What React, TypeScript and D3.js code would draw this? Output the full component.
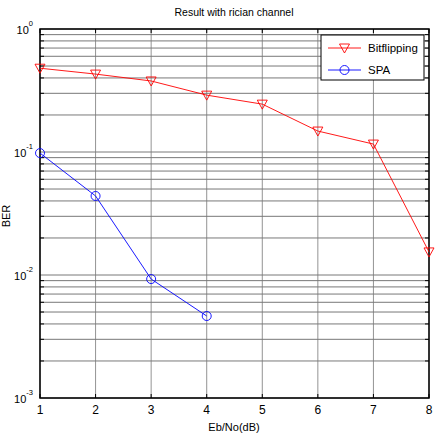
import * as d3 from "d3";

const ebno = [1, 2, 3, 4, 5, 6, 7, 8];
const bitflipping = [0.48, 0.43, 0.378, 0.29, 0.245, 0.148, 0.116, 0.0154];
const spaX = [1, 2, 3, 4];
const spa = [0.098, 0.0439, 0.00927, 0.00464];
const decades = [0, -1, -2, -3];
const xTicks = [1, 2, 3, 4, 5, 6, 7, 8];

const margin = { top: 29, right: 6, bottom: 36, left: 40 };
const width = 435;
const height = 434;
const font = "'Liberation Sans', Arial, sans-serif";

export default function App() {
  const iw = width - margin.left - margin.right;
  const ih = height - margin.top - margin.bottom;

  const x = d3.scaleLinear().domain([1, 8]).range([0, iw]);
  const y = d3.scaleLog().domain([1e-3, 1]).range([ih, 0]);

  // minor grid values 2..9 in each decade
  const minor: number[] = [];
  for (let e = -3; e < 0; e++) {
    for (let k = 2; k <= 9; k++) minor.push(k * Math.pow(10, e));
  }

  const line = d3
    .line<[number, number]>()
    .x((d) => x(d[0]))
    .y((d) => y(d[1]));

  const bfPts = ebno.map((v, i) => [v, bitflipping[i]] as [number, number]);
  const spaPts = spaX.map((v, i) => [v, spa[i]] as [number, number]);

  const tri = (cx: number, cy: number) =>
    `M${cx - 5},${cy - 4}L${cx + 5},${cy - 4}L${cx},${cy + 5}Z`;

  return (
    <svg
      width={width}
      height={height}
      style={{ position: "absolute", left: 0, top: 0, background: "#fff" }}
      fontFamily={font}
    >
      <text x={234} y={16} textAnchor="middle" fontSize={10.5}>
        Result with rician channel
      </text>
      <g transform={`translate(${margin.left},${margin.top})`}>
        {/* grid */}
        {minor.map((v) => (
          <line key={"m" + v} x1={0} x2={iw} y1={y(v)} y2={y(v)} stroke="#555" strokeWidth={0.8} />
        ))}
        {decades.map((e) => (
          <line key={"d" + e} x1={0} x2={iw} y1={y(Math.pow(10, e))} y2={y(Math.pow(10, e))} stroke="#555" strokeWidth={0.8} />
        ))}
        {xTicks.map((t) => (
          <line key={"vx" + t} x1={x(t)} x2={x(t)} y1={0} y2={ih} stroke="#777" strokeWidth={0.8} />
        ))}
        {/* ticks */}
        {minor.map((v) => (
          <g key={"t" + v}>
            <line x1={0} x2={4} y1={y(v)} y2={y(v)} stroke="#000" />
            <line x1={iw - 4} x2={iw} y1={y(v)} y2={y(v)} stroke="#000" />
          </g>
        ))}
        {xTicks.map((t) => (
          <g key={"tx" + t}>
            <line x1={x(t)} x2={x(t)} y1={ih} y2={ih - 4} stroke="#000" />
            <line x1={x(t)} x2={x(t)} y1={0} y2={4} stroke="#000" />
          </g>
        ))}
        <rect x={0} y={0} width={iw} height={ih} fill="none" stroke="#000" strokeWidth={1.5} />
        {/* tick labels */}
        {xTicks.map((t) => (
          <text key={"lx" + t} x={x(t)} y={ih + 16} textAnchor="middle" fontSize={12}>
            {t}
          </text>
        ))}
        {decades.map((e) => (
          <text key={"ly" + e} x={-7} y={y(Math.pow(10, e)) + 5} textAnchor="end" fontSize={11}>
            10
            <tspan dy={-8} fontSize={7.5}>
              {e}
            </tspan>
          </text>
        ))}
        {/* series */}
        <path d={line(bfPts) ?? ""} fill="none" stroke="#f00" strokeWidth={0.9} />
        {bfPts.map((p, i) => (
          <path key={"b" + i} d={tri(x(p[0]), y(p[1]))} fill="none" stroke="#f00" strokeWidth={0.9} />
        ))}
        <path d={line(spaPts) ?? ""} fill="none" stroke="#00f" strokeWidth={0.9} />
        {spaPts.map((p, i) => (
          <circle key={"s" + i} cx={x(p[0])} cy={y(p[1])} r={4.5} fill="none" stroke="#00f" strokeWidth={0.9} />
        ))}
        {/* legend */}
        <g transform={`translate(${iw - 108},6)`}>
          <rect x={0} y={0} width={103} height={45} fill="#fff" stroke="#000" strokeWidth={1} />
          <line x1={7} x2={40} y1={13} y2={13} stroke="#f00" strokeWidth={0.9} />
          <path d={tri(23.5, 13)} fill="none" stroke="#f00" strokeWidth={0.9} />
          <text x={47} y={17} fontSize={11.5}>Bitflipping</text>
          <line x1={7} x2={40} y1={35} y2={35} stroke="#00f" strokeWidth={0.9} />
          <circle cx={23.5} cy={35} r={4.5} fill="none" stroke="#00f" strokeWidth={0.9} />
          <text x={47} y={39} fontSize={11.5}>SPA</text>
        </g>
      </g>
      <text x={234} y={431} textAnchor="middle" fontSize={11}>
        Eb/No(dB)
      </text>
      <text transform={`translate(9.5,216) rotate(-90)`} textAnchor="middle" fontSize={11}>
        BER
      </text>
    </svg>
  );
}
